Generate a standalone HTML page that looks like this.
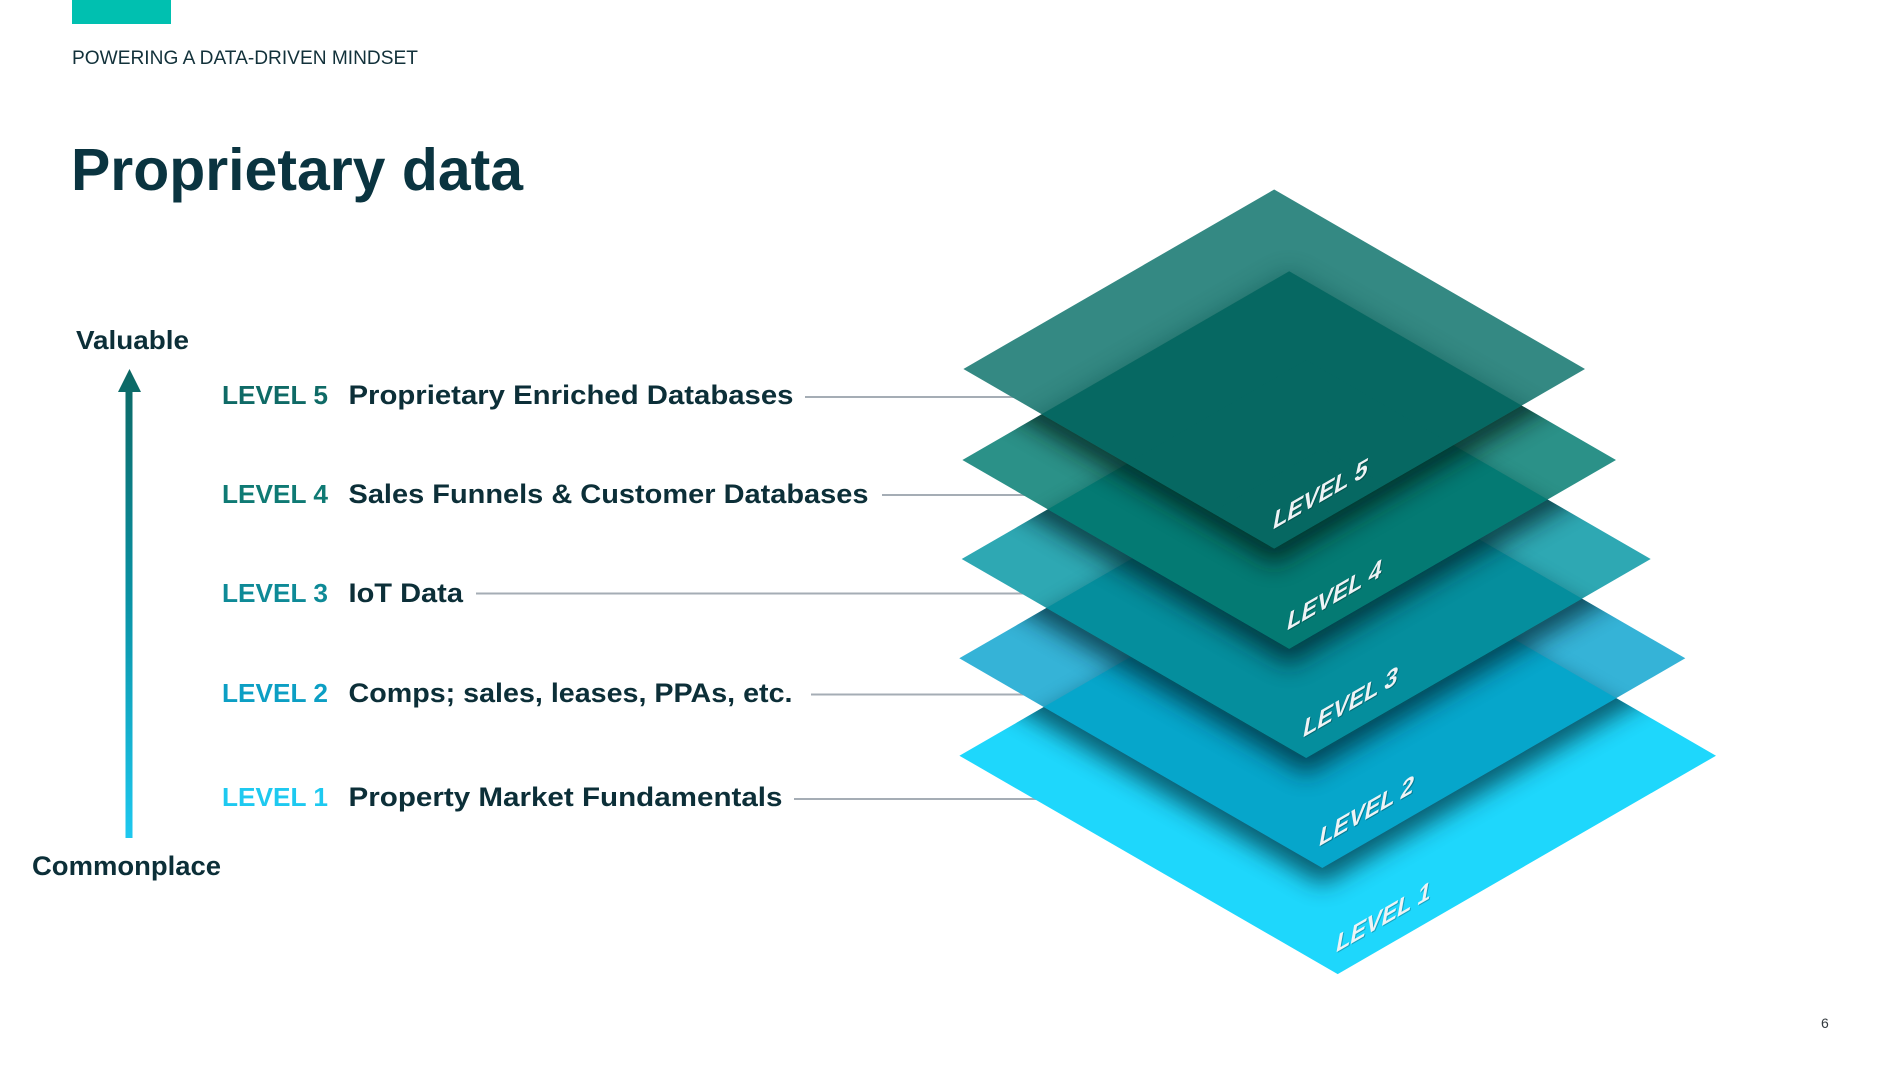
<!DOCTYPE html>
<html>
<head>
<meta charset="utf-8">
<style>
  html,body{margin:0;padding:0;background:#ffffff;}
  body{width:1900px;height:1069px;overflow:hidden;}
  svg{display:block;}
  text{font-family:"Liberation Sans", Arial, sans-serif;}
</style>
</head>
<body>
<svg width="1900" height="1069" viewBox="0 0 1900 1069" xmlns="http://www.w3.org/2000/svg">
  <defs>
    <filter id="blur12" x="-30%" y="-30%" width="160%" height="160%">
      <feGaussianBlur stdDeviation="12"/>
    </filter>
    <filter id="blur8" x="-30%" y="-30%" width="160%" height="160%">
      <feGaussianBlur stdDeviation="8"/>
    </filter>
    <linearGradient id="ag" gradientUnits="userSpaceOnUse" x1="0" y1="369" x2="0" y2="838">
      <stop offset="0" stop-color="#0c6763"/>
      <stop offset="0.5" stop-color="#0a93a6"/>
      <stop offset="1" stop-color="#1ec8ef"/>
    </linearGradient>

    <clipPath id="c2"><polygon points="959.3,658.3 1322.3,448.7 1685.3,658.3 1322.3,867.9"/></clipPath>
    <clipPath id="c3"><polygon points="961.7,559 1306.2,360.1 1650.7,559 1306.2,757.9"/></clipPath>
    <clipPath id="c4"><polygon points="962.4,460 1289.2,271.3 1616,460 1289.2,648.7"/></clipPath>
    <clipPath id="c5"><polygon points="963.4,369 1274.2,189.5 1585,369 1274.2,548.5"/></clipPath>

    <clipPath id="u1">
      <polygon points="959.4,755.7 1337.7,537.3 1716,755.7 1337.7,974.1"/>
    </clipPath>
    <clipPath id="u2">
      <polygon points="959.4,755.7 1337.7,537.3 1716,755.7 1337.7,974.1"/>
      <polygon points="959.3,658.3 1322.3,448.7 1685.3,658.3 1322.3,867.9"/>
    </clipPath>
    <clipPath id="u3">
      <polygon points="959.4,755.7 1337.7,537.3 1716,755.7 1337.7,974.1"/>
      <polygon points="959.3,658.3 1322.3,448.7 1685.3,658.3 1322.3,867.9"/>
      <polygon points="961.7,559 1306.2,360.1 1650.7,559 1306.2,757.9"/>
    </clipPath>
    <clipPath id="u4">
      <polygon points="959.4,755.7 1337.7,537.3 1716,755.7 1337.7,974.1"/>
      <polygon points="959.3,658.3 1322.3,448.7 1685.3,658.3 1322.3,867.9"/>
      <polygon points="961.7,559 1306.2,360.1 1650.7,559 1306.2,757.9"/>
      <polygon points="962.4,460 1289.2,271.3 1616,460 1289.2,648.7"/>
    </clipPath>
  </defs>

  <rect x="0" y="0" width="1900" height="1069" fill="#ffffff"/>

  <!-- top teal bar -->
  <rect x="72" y="0" width="99" height="24" fill="#00c0b0"/>

  <!-- header -->
  <text x="72" y="64" font-size="19" fill="#12313a" textLength="346" lengthAdjust="spacingAndGlyphs">POWERING A DATA-DRIVEN MINDSET</text>

  <!-- title -->
  <text x="71" y="190" font-size="59" font-weight="bold" fill="#0a3440" textLength="452" lengthAdjust="spacingAndGlyphs">Proprietary data</text>

  <!-- axis labels -->
  <text x="76" y="349" font-size="26" font-weight="bold" fill="#0c2f38" textLength="113" lengthAdjust="spacingAndGlyphs">Valuable</text>
  <text x="32" y="875" font-size="27" font-weight="bold" fill="#0c2f38" textLength="189" lengthAdjust="spacingAndGlyphs">Commonplace</text>

  <!-- arrow -->
  <rect x="125.5" y="389" width="7" height="449" fill="url(#ag)"/>
  <polygon points="118,392 141,392 129.5,369" fill="url(#ag)"/>

  <!-- connector lines (under diamonds) -->
  <g stroke="#a5adb5" stroke-width="2">
    <line x1="805" y1="397" x2="1100" y2="397"/>
    <line x1="882" y1="495" x2="1100" y2="495"/>
    <line x1="476" y1="593.5" x2="1100" y2="593.5"/>
    <line x1="811" y1="694.5" x2="1100" y2="694.5"/>
    <line x1="794" y1="799" x2="1100" y2="799"/>
  </g>

  <!-- level labels left -->
  <g font-size="25.5" font-weight="bold">
    <text x="222" y="404" fill="#0f6a66" textLength="106" lengthAdjust="spacingAndGlyphs">LEVEL 5</text>
    <text x="222" y="503" fill="#0f7a74" textLength="106" lengthAdjust="spacingAndGlyphs">LEVEL 4</text>
    <text x="222" y="602" fill="#0e8a97" textLength="106" lengthAdjust="spacingAndGlyphs">LEVEL 3</text>
    <text x="222" y="702" fill="#0c9fc4" textLength="106" lengthAdjust="spacingAndGlyphs">LEVEL 2</text>
    <text x="222" y="806" fill="#1ec9f0" textLength="106" lengthAdjust="spacingAndGlyphs">LEVEL 1</text>
  </g>
  <g font-size="26.5" font-weight="bold" fill="#0c2f38">
    <text x="348.5" y="404" textLength="445" lengthAdjust="spacingAndGlyphs">Proprietary Enriched Databases</text>
    <text x="348.5" y="503" textLength="520" lengthAdjust="spacingAndGlyphs">Sales Funnels &amp; Customer Databases</text>
    <text x="348.5" y="602" textLength="114.5" lengthAdjust="spacingAndGlyphs">IoT Data</text>
    <text x="348.5" y="702" textLength="444" lengthAdjust="spacingAndGlyphs">Comps; sales, leases, PPAs, etc.</text>
    <text x="348.5" y="806" textLength="434" lengthAdjust="spacingAndGlyphs">Property Market Fundamentals</text>
  </g>

  <!-- ===== LAYER 1 ===== -->
  <polygon points="959.4,755.7 1337.7,537.3 1716,755.7 1337.7,974.1" fill="#1ed7fc"/>
  <g clip-path="url(#u1)">
    <polygon points="959.3,658.3 1322.3,448.7 1685.3,658.3 1322.3,867.9" transform="translate(0,17)" fill="#002a35" opacity="0.7" filter="url(#blur12)"/>
  </g>

  <!-- ===== LAYER 2 ===== -->
  <polygon points="959.3,658.3 1322.3,448.7 1685.3,658.3 1322.3,867.9" fill="#35b3d7"/>
  <g clip-path="url(#c2)">
    <g opacity="0.35" filter="url(#blur8)">
      <polygon points="959.4,755.7 1337.7,537.3 1716,755.7 1337.7,974.1" fill="#0a4e66"/>
    </g>
    <polygon points="959.4,755.7 1337.7,537.3 1716,755.7 1337.7,974.1" fill="#06a6cb"/>
  </g>
  <g clip-path="url(#u2)">
    <polygon points="961.7,559 1306.2,360.1 1650.7,559 1306.2,757.9" transform="translate(0,17)" fill="#00222c" opacity="0.7" filter="url(#blur12)"/>
  </g>

  <!-- ===== LAYER 3 ===== -->
  <polygon points="961.7,559 1306.2,360.1 1650.7,559 1306.2,757.9" fill="#2ea8b3"/>
  <g clip-path="url(#c3)">
    <g opacity="0.35" filter="url(#blur8)">
      <polygon points="959.4,755.7 1337.7,537.3 1716,755.7 1337.7,974.1" fill="#0a4a55"/>
      <polygon points="959.3,658.3 1322.3,448.7 1685.3,658.3 1322.3,867.9" fill="#0a4a55"/>
    </g>
    <polygon points="959.4,755.7 1337.7,537.3 1716,755.7 1337.7,974.1" fill="#058e9d"/>
    <polygon points="959.3,658.3 1322.3,448.7 1685.3,658.3 1322.3,867.9" fill="#058e9d"/>
  </g>
  <g clip-path="url(#u3)">
    <polygon points="962.4,460 1289.2,271.3 1616,460 1289.2,648.7" transform="translate(0,17)" fill="#001f22" opacity="0.7" filter="url(#blur12)"/>
  </g>

  <!-- ===== LAYER 4 ===== -->
  <polygon points="962.4,460 1289.2,271.3 1616,460 1289.2,648.7" fill="#2b9188"/>
  <g clip-path="url(#c4)">
    <g opacity="0.35" filter="url(#blur8)">
      <polygon points="959.4,755.7 1337.7,537.3 1716,755.7 1337.7,974.1" fill="#0a4642"/>
      <polygon points="959.3,658.3 1322.3,448.7 1685.3,658.3 1322.3,867.9" fill="#0a4642"/>
      <polygon points="961.7,559 1306.2,360.1 1650.7,559 1306.2,757.9" fill="#0a4642"/>
    </g>
    <polygon points="959.4,755.7 1337.7,537.3 1716,755.7 1337.7,974.1" fill="#047a73"/>
    <polygon points="959.3,658.3 1322.3,448.7 1685.3,658.3 1322.3,867.9" fill="#047a73"/>
    <polygon points="961.7,559 1306.2,360.1 1650.7,559 1306.2,757.9" fill="#047a73"/>
  </g>
  <g clip-path="url(#u4)">
    <polygon points="963.4,369 1274.2,189.5 1585,369 1274.2,548.5" transform="translate(0,17)" fill="#001a18" opacity="0.72" filter="url(#blur12)"/>
  </g>

  <!-- ===== LAYER 5 ===== -->
  <polygon points="963.4,369 1274.2,189.5 1585,369 1274.2,548.5" fill="#348983"/>
  <g clip-path="url(#c5)">
    <g opacity="0.45" filter="url(#blur12)">
      <polygon points="962.4,460 1289.2,271.3 1616,460 1289.2,648.7" fill="#0a4a45"/>
      <polygon points="961.7,559 1306.2,360.1 1650.7,559 1306.2,757.9" fill="#0a4a45"/>
    </g>
    <polygon points="962.4,460 1289.2,271.3 1616,460 1289.2,648.7" fill="#066862"/>
    <polygon points="961.7,559 1306.2,360.1 1650.7,559 1306.2,757.9" fill="#066862"/>
    <polygon points="959.3,658.3 1322.3,448.7 1685.3,658.3 1322.3,867.9" fill="#066862"/>
  </g>

  <!-- labels on diamonds -->
  <g font-size="27" font-weight="bold">
    <g transform="matrix(0.866,-0.5,-0.18,1,1272,530)">
      <text x="1.5" y="1.5" fill="#002a2a" opacity="0.35">LEVEL 5</text>
      <text x="0" y="0" fill="#eef3f5">LEVEL 5</text>
    </g>
    <g transform="matrix(0.866,-0.5,-0.18,1,1286,631)">
      <text x="1.5" y="1.5" fill="#002a2a" opacity="0.35">LEVEL 4</text>
      <text x="0" y="0" fill="#eef3f5">LEVEL 4</text>
    </g>
    <g transform="matrix(0.866,-0.5,-0.18,1,1302,738)">
      <text x="1.5" y="1.5" fill="#002a2a" opacity="0.35">LEVEL 3</text>
      <text x="0" y="0" fill="#eef3f5">LEVEL 3</text>
    </g>
    <g transform="matrix(0.866,-0.5,-0.18,1,1318,847)">
      <text x="1.5" y="1.5" fill="#002a2a" opacity="0.35">LEVEL 2</text>
      <text x="0" y="0" fill="#eef3f5">LEVEL 2</text>
    </g>
    <g transform="matrix(0.866,-0.5,-0.18,1,1335,953)">
      <text x="1.5" y="1.5" fill="#003040" opacity="0.3">LEVEL 1</text>
      <text x="0" y="0" fill="#eef3f5">LEVEL 1</text>
    </g>
  </g>

  <!-- page number -->
  <text x="1821" y="1028" font-size="14" fill="#333a3f">6</text>
</svg>
</body>
</html>
